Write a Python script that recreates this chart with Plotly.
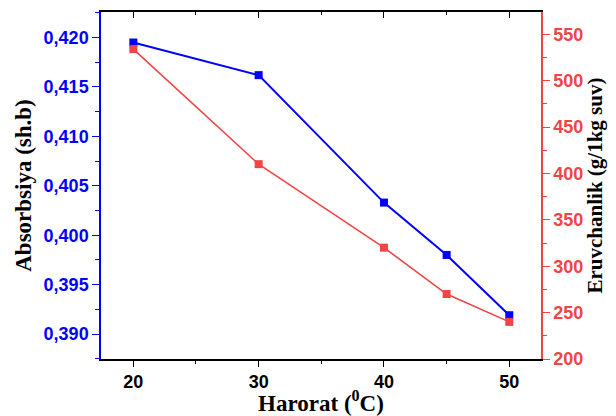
import plotly.graph_objects as go

temperature = [20, 30, 40, 45, 50]
absorbsiya = [0.4195, 0.4162, 0.4033, 0.3980, 0.3919]
eruvchanlik = [534, 410, 320, 270, 240]

x_ticks = [20, 30, 40, 50]
left_ticks = [0.390, 0.395, 0.400, 0.405, 0.410, 0.415, 0.420]
right_ticks = [200, 250, 300, 350, 400, 450, 500, 550]

BLUE = "#0000FF"
RED = "#F04545"
XR = [17.42, 52.53]

fig = go.Figure()
fig.add_trace(go.Scatter(x=temperature, y=absorbsiya, mode="lines+markers",
                         line=dict(color=BLUE, width=2),
                         marker=dict(symbol="square", size=8, color=BLUE),
                         yaxis="y", xaxis="x", showlegend=False))
fig.add_trace(go.Scatter(x=temperature, y=eruvchanlik, mode="lines+markers",
                         line=dict(color=RED, width=1.6),
                         marker=dict(symbol="square", size=8, color=RED),
                         yaxis="y2", xaxis="x", showlegend=False))
fig.add_trace(go.Scatter(x=[temperature[0]], y=[absorbsiya[0]], mode="markers",
                         marker=dict(opacity=0), xaxis="x2", yaxis="y",
                         showlegend=False, hoverinfo="skip"))

tickfont = dict(family="Liberation Sans", size=18)
TS = 23
# page body has an 8px margin; size/margins compensate so the plot area
# lands at x 101..541, y 12..359 in the 616x416 window
fig.update_layout(
    width=608, height=408,
    margin=dict(l=93, r=75, t=4, b=57),
    plot_bgcolor="white", paper_bgcolor="white",
    separators=", ",
    xaxis=dict(range=XR, tickvals=x_ticks, ticks="outside", ticklen=6, tickwidth=1.2,
               tickcolor="black", showline=True, linecolor="black", linewidth=1.5,
               showgrid=False, zeroline=False, automargin=False,
               tickfont=dict(tickfont, color="black", weight="bold"),
               minor=dict(dtick=5, tick0=0, ticks="outside", ticklen=3, tickcolor="black"),
               title=dict(text="Harorat (<sup>0</sup>C)", standoff=2,
                          font=dict(family="Liberation Serif", size=TS, color="black", weight="bold"))),
    xaxis2=dict(range=XR, overlaying="x", side="top", tickvals=x_ticks, ticks="inside",
                ticklen=6, tickwidth=1.2, tickcolor="black", showline=True, linecolor="black",
                linewidth=1.5, showticklabels=False, showgrid=False, zeroline=False,
                automargin=False,
                minor=dict(dtick=5, tick0=0, ticks="inside", ticklen=3, tickcolor="black")),
    yaxis=dict(range=[0.38747, 0.42259], tickvals=left_ticks, tickformat=".3f",
               ticks="outside", ticklen=7, tickwidth=1.2, tickcolor=BLUE,
               showline=True, linecolor=BLUE, linewidth=1.5, showgrid=False, zeroline=False,
               automargin=False,
               tickfont=dict(tickfont, color=BLUE, weight="bold"),
               minor=dict(dtick=0.0025, tick0=0.39, ticks="outside", ticklen=4, tickcolor=BLUE),
               title=dict(text="Absorbsiya (sh.b)", standoff=6,
                          font=dict(family="Liberation Serif", size=TS, color="black", weight="bold"))),
    yaxis2=dict(range=[200, 574], tickvals=right_ticks, overlaying="y", side="right",
                ticks="outside", ticklen=7, tickwidth=1.2, tickcolor=RED,
                showline=True, linecolor=RED, linewidth=1.5, showgrid=False, zeroline=False,
                automargin=False,
                tickfont=dict(tickfont, color=RED, weight="bold"),
                minor=dict(dtick=25, tick0=0, ticks="outside", ticklen=4, tickcolor=RED),
                title=dict(text="Eruvchanlik (g/1kg suv)", standoff=5,
                           font=dict(family="Liberation Serif", size=21, color="black", weight="bold"))),
)

fig.write_html("out.html")
